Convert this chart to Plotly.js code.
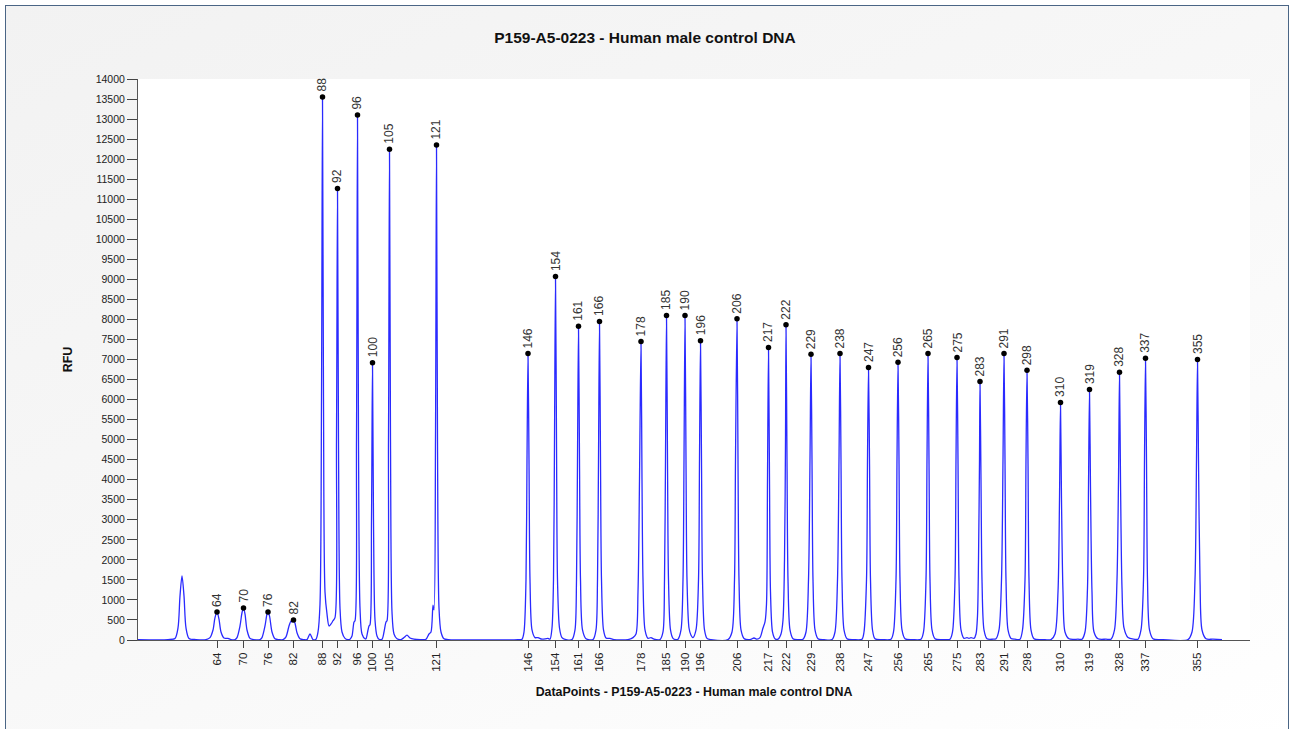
<!DOCTYPE html>
<html>
<head>
<meta charset="utf-8">
<script src="https://cdn.plot.ly/plotly-3.0.1.min.js"></script>
<style>
  html, body { margin: 0; padding: 0; overflow: hidden; background: #ffffff; }
  #frame { position: absolute; left: 5px; top: 5px; width: 1282px; height: 740px;
           border: 1px solid #4a6585;
           background: linear-gradient(155deg, #f2f2f2 0%, #f7f7f7 45%, #ffffff 100%); }
  #chart { position: absolute; left: 0; top: 0; width: 1290px; height: 729px; }
</style>
</head>
<body>
<div id="frame"></div>
<div id="chart"></div>
<script>
// Raw trace (DataPoints vs RFU)
const traceX = [
  0, 30, 37, 40, 42, 44, 46, 48, 51, 58,
  68, 72, 75, 77, 79, 81, 83, 86, 88, 90, 93,
  97, 99, 102, 104, 105.5, 107, 109, 112, 116,
  122, 124, 127, 129, 130, 131.5, 134, 137, 141,
  145, 148, 151, 153, 154, 155.5, 157, 159, 162, 166,
  169, 172, 175,
  178, 180, 182, 183.5, 184.5, 185.5, 187, 189, 191, 193,
  195, 197, 198.5, 199.5, 200.5, 202, 204, 207, 210,
  212, 214, 216, 217, 218.5, 219.5, 220.5, 222, 224, 227,
  228, 230, 231, 232, 233.5, 234.5, 235.5, 237, 239, 241,
  244, 246, 248, 249, 250.5, 251.5, 252.5, 254, 256, 259,
  263, 266, 269, 272, 276, 284,
  288, 291, 293, 295, 296, 297.5, 298.5, 299.5, 301, 303, 306, 310,
  380, 384, 386, 388, 389, 390, 391, 392, 394, 397, 400, 404, 410,
  412, 414, 415.5, 416.5, 417.5, 418.5, 419.5, 421.5, 424, 428,
  434, 437, 438.5, 439.5, 440.5, 441.5, 442.5, 444.5, 448,
  455, 458, 459.5, 460.5, 461.5, 462.5, 463.5, 465.5, 468, 472, 476,
  490, 495, 498, 500, 501.5, 503, 504, 505, 507, 510, 513, 516,
  522, 525, 526.5, 527.5, 528.5, 529.5, 530.5, 532.5, 535, 538,
  540, 543, 545, 546, 547, 548, 549, 551, 553,
  555, 558, 560.5, 561.5, 562.5, 563.5, 564.5, 566.5, 569, 573,
  590, 594, 596.5, 597.5, 599, 600, 601, 603, 606, 612, 616, 619, 622, 625,
  627, 628.5, 629.5, 630.5, 631.5, 632.5, 634.5, 637, 640,
  643, 645, 646.5, 647.5, 648, 649, 650, 652, 655, 660,
  665, 668, 670.5, 672, 673, 674, 675, 677, 680, 686,
  694, 697, 699.5, 701, 702, 703, 704, 706, 709, 716,
  724, 726, 728.5, 729.5, 730.5, 731.5, 732.5, 734.5, 737, 745,
  753, 755.5, 758, 759, 760, 761, 762, 764, 767, 775,
  783, 785.5, 788, 789, 790, 791, 792, 794, 797, 805,
  812, 814.5, 817, 818, 819, 820, 821, 823, 826, 829, 831, 833, 836,
  838, 839.5, 840.5, 841.5, 842, 843, 844, 846, 849, 855,
  858, 861, 863.5, 865, 866, 867, 868, 870, 873, 877,
  882, 884.5, 887, 888, 889, 890, 891, 893, 896, 905,
  913, 917, 920, 921.5, 922.5, 923.5, 925, 927, 931, 940,
  944, 947, 949.5, 950.5, 951.5, 952.5, 954, 956, 960, 968,
  973, 976.5, 979, 980.5, 981.5, 982.5, 984, 986, 990, 996,
  1000, 1003, 1005.5, 1006.5, 1007.5, 1008.5, 1009.5, 1011.5, 1015, 1025,
  1050, 1054, 1057, 1058.5, 1059.5, 1060.5, 1062, 1064, 1068, 1075, 1084
];
const traceY = [
  10, 10, 40, 300, 1100, 1600, 1100, 300, 40, 10,
  10, 60, 250, 560, 700, 520, 200, 50, 40, 40, 10,
  10, 60, 350, 680, 800, 650, 250, 40, 10,
  10, 60, 350, 650, 700, 600, 200, 30, 10,
  10, 80, 350, 470, 450, 500, 420, 180, 30, 10,
  10, 150, 10,
  20, 200, 900, 6000, 13550, 6000, 1200, 650, 350, 400,
  480, 560, 5000, 11270, 5000, 800, 200, 40, 10,
  20, 100, 450, 480, 5000, 13100, 5000, 800, 150, 30,
  30, 250, 350, 380, 3000, 6920, 3000, 500, 100, 20,
  20, 200, 450, 480, 5000, 12250, 5000, 700, 150, 30,
  10, 60, 120, 50, 20, 10,
  20, 150, 200, 870, 750, 5000, 12350, 5000, 800, 200, 30, 10,
  10, 20, 200, 1500, 4500, 7150, 4500, 1500, 250, 60, 60, 20, 40,
  20, 300, 1500, 5000, 9070, 5000, 1500, 300, 60, 10,
  10, 250, 1500, 4500, 7830, 4500, 1500, 250, 30,
  10, 250, 1500, 4500, 7950, 4500, 1500, 250, 50, 40, 10,
  10, 60, 150, 1200, 4000, 7450, 4000, 1500, 250, 40, 60, 20,
  10, 200, 1500, 4500, 8100, 4500, 1500, 250, 40, 10,
  20, 250, 1500, 4500, 8100, 4500, 1500, 300, 120,
  60, 250, 1500, 4500, 7470, 4500, 1500, 250, 40, 10,
  10, 200, 1500, 4500, 8020, 4500, 1500, 250, 40, 10, 50, 20, 60, 300,
  450, 900, 4000, 7300, 4000, 1200, 200, 30, 20,
  150, 500, 2000, 5000, 7870, 4500, 1500, 250, 30, 10,
  20, 200, 1500, 4500, 7130, 4500, 1500, 250, 30, 10,
  10, 200, 1500, 4500, 7150, 4500, 1500, 250, 30, 10,
  20, 200, 1500, 4500, 6800, 4500, 1500, 250, 30, 10,
  20, 200, 1500, 4500, 6930, 4500, 1500, 250, 30, 10,
  20, 200, 1500, 4500, 7150, 4500, 1500, 250, 30, 10,
  20, 200, 1500, 4500, 7050, 4500, 1500, 250, 40, 60, 40, 60, 40,
  150, 600, 2000, 4500, 6450, 4000, 1500, 250, 30, 20,
  30, 250, 1500, 4500, 7150, 4500, 1500, 250, 40, 20,
  20, 250, 1500, 4500, 6730, 4500, 1500, 250, 30, 10,
  10, 150, 1200, 3500, 5930, 3500, 1200, 200, 30, 20,
  20, 200, 1300, 3800, 6250, 3800, 1200, 200, 30, 20,
  20, 250, 1500, 4000, 6680, 4000, 1300, 300, 60, 20,
  20, 250, 1500, 4500, 7030, 4500, 1500, 250, 30, 10,
  10, 200, 1500, 4500, 7000, 4500, 1500, 250, 30, 20, 10
];

// Called peaks: position (DataPoints), size label (nt), height (RFU)
const peakX = [79, 105.5, 130, 155.5, 184.5, 199.5, 219.5, 234.5, 251.5, 298.5,
  390, 417.5, 440.5, 461.5, 503, 528.5, 547, 562.5, 599, 630.5, 648, 673, 702,
  730.5, 760, 790, 819, 842, 866, 889, 922.5, 951.5, 981.5, 1007.5, 1059.5];
const peakSizes = ['64', '70', '76', '82', '88', '92', '96', '100', '105', '121',
  '146', '154', '161', '166', '178', '185', '190', '196', '206', '217', '222', '229', '238',
  '247', '256', '265', '275', '283', '291', '298', '310', '319', '328', '337', '355'];
const peakY = [700, 800, 700, 500, 13550, 11270, 13100, 6920, 12250, 12350,
  7150, 9070, 7830, 7950, 7450, 8100, 8100, 7470, 8020, 7300, 7870, 7130, 7150,
  6800, 6930, 7150, 7050, 6450, 7150, 6730, 5930, 6250, 6680, 7030, 7000];

const yTicks = [];
for (let v = 0; v <= 14000; v += 500) yTicks.push(v);

const chartTitle = 'P159-A5-0223 - Human male control DNA';
const xTitle = 'DataPoints - P159-A5-0223 - Human male control DNA';
const yTitle = 'RFU';

const FONT = 'Liberation Sans, Arial, sans-serif';

const traces = [
  {
    x: traceX, y: traceY, type: 'scatter', mode: 'lines',
    line: { color: '#2a2aff', width: 1.3, shape: 'spline', smoothing: 0.8 },
    hoverinfo: 'skip', showlegend: false
  },
  {
    x: peakX, y: peakY, type: 'scatter', mode: 'markers',
    marker: { color: '#000000', size: 5.5 },
    showlegend: false
  }
];

const annotations = peakX.map((px, i) => ({
  x: px, y: peakY[i], xref: 'x', yref: 'y',
  text: peakSizes[i], showarrow: false, textangle: -90,
  xanchor: 'center', yanchor: 'bottom', yshift: 3,
  font: { family: FONT, size: 12, color: '#333333' }
}));

const layout = {
  width: 1290, height: 729,
  paper_bgcolor: 'rgba(0,0,0,0)',
  plot_bgcolor: '#ffffff',
  margin: { l: 138, r: 40, t: 79, b: 89 },
  title: {
    text: '<b>' + chartTitle + '</b>',
    x: 0.5, xref: 'container', xanchor: 'center',
    y: 0.948, yref: 'container', yanchor: 'middle',
    font: { family: FONT, size: 15.5, color: '#111111' }
  },
  xaxis: {
    range: [0, 1112],
    tickmode: 'array', tickvals: peakX, ticktext: peakSizes,
    tickangle: -90, ticks: 'outside', ticklen: 7, tickcolor: '#444444', tickwidth: 1,
    tickfont: { family: FONT, size: 11.5, color: '#222222' },
    showline: true, linecolor: '#555555', linewidth: 1,
    showgrid: false, zeroline: false,
    title: { text: '<b>' + xTitle + '</b>', standoff: 16,
      font: { family: FONT, size: 12.4, color: '#111111' } }
  },
  yaxis: {
    range: [0, 14000],
    tickmode: 'array', tickvals: yTicks, ticktext: yTicks.map(String),
    ticks: 'outside', ticklen: 10, tickcolor: '#444444', tickwidth: 1,
    tickfont: { family: FONT, size: 10.5, color: '#222222' },
    showline: true, linecolor: '#555555', linewidth: 1,
    showgrid: false, zeroline: false,
    title: { text: '<b>' + yTitle + '</b>', standoff: 20,
      font: { family: FONT, size: 12.5, color: '#111111' } }
  },
  annotations: annotations,
  showlegend: false
};

Plotly.newPlot('chart', traces, layout, { displayModeBar: false, staticPlot: true });
</script>
</body>
</html>
